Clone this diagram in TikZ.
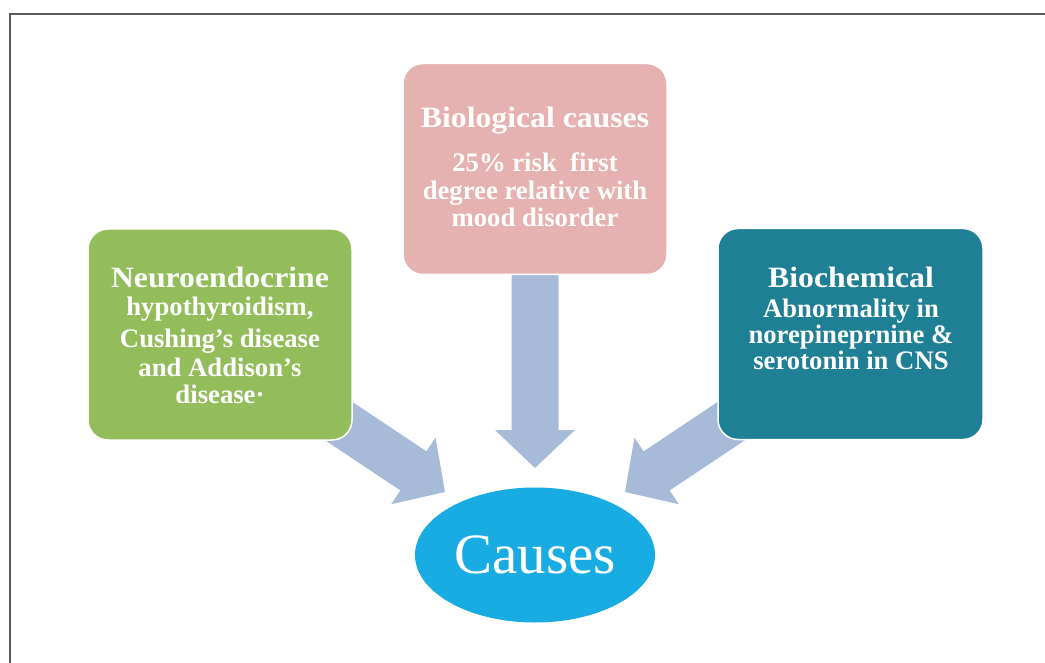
\documentclass[tikz,border=0pt]{standalone}
\usepackage{fontspec}
\setmainfont{Liberation Serif}
\newfontfamily\headfont[FakeStretch=1.075]{Liberation Serif}
\usetikzlibrary{shapes.geometric}
\definecolor{framecol}{HTML}{5A5A5A}
\definecolor{greenbox}{HTML}{93BD5B}
\definecolor{pinkbox}{HTML}{E5B2B1}
\definecolor{tealbox}{HTML}{1E7F95}
\definecolor{arrowcol}{HTML}{A7BBD8}
\definecolor{ellcol}{HTML}{18ACE2}
\tikzset{
  causebox/.style={rectangle, rounded corners=20pt, draw=white, line width=1.5pt,
    minimum width=264pt, minimum height=211pt, inner sep=0pt},
  headtxt/.style={text=white, inner sep=0pt, anchor=base,
    font=\headfont\bfseries\fontsize{29.5}{31}\selectfont},
  bodytxt/.style={text=white, inner sep=0pt, anchor=base,
    font=\bfseries\fontsize{26.7}{29}\selectfont},
  blockarrow/.style={fill=arrowcol}
}
\begin{document}
\begin{tikzpicture}[x=1pt,y=-1pt]
\useasboundingbox (0,0) rectangle (1045,663);
\draw[framecol, line width=2pt] (10,663) -- (10,14) -- (1045,14);

% block arrows (behind the boxes)
\fill[blockarrow, shift={(445,492)}, rotate=-33.7]
  (0,0) -- (-38,40) -- (-38,23.5) -- (-160,23.5) -- (-160,-23.5) -- (-38,-23.5) -- (-38,-40) -- cycle;
\fill[blockarrow, shift={(625,492)}, rotate=-146.3]
  (0,0) -- (-38,40) -- (-38,23.5) -- (-160,23.5) -- (-160,-23.5) -- (-38,-23.5) -- (-38,-40) -- cycle;
\fill[blockarrow, shift={(535,468)}, rotate=-90]
  (0,0) -- (-38,40) -- (-38,23.5) -- (-200,23.5) -- (-200,-23.5) -- (-38,-23.5) -- (-38,-40) -- cycle;

% boxes
\node[causebox, fill=greenbox] (neuro) at (220,334.5) {};
\node[causebox, fill=pinkbox] (bio) at (535,169) {};
\node[causebox, fill=tealbox, minimum width=265pt] (chem) at (850.5,334) {};

% ellipse
\node[ellipse, fill=ellcol, minimum width=240pt, minimum height=135pt, inner sep=0pt,
  text=white, font=\fontsize{57}{60}\selectfont] (causes) at (535,555) {Causes};

% texts: neuroendocrine
\node[headtxt] (neuroH) at (220,288) {Neuroendocrine};
\node[bodytxt] (neuro1) at (220,316) {hypothyroidism,};
\node[bodytxt] (neuro2) at (220,347) {Cushing’s disease};
\node[bodytxt] (neuro3) at (220,376) {and Addison’s};
\node[bodytxt] (neuro4) at (220,403) {disease\textperiodcentered};

% texts: biological
\node[headtxt] (bioH) at (535,128) {Biological causes};
\node[bodytxt] (bio1) at (535,172) {25\% risk\ \ first};
\node[bodytxt] (bio2) at (535,200) {degree relative with};
\node[bodytxt] (bio3) at (535,227) {mood disorder};

% texts: biochemical
\node[headtxt] (chemH) at (851,288) {Biochemical};
\node[bodytxt] (chem1) at (851,317) {Abnormality in};
\node[bodytxt] (chem2) at (851,343) {norepineprnine \&};
\node[bodytxt] (chem3) at (851,370) {serotonin in CNS};
\end{tikzpicture}
\end{document}
